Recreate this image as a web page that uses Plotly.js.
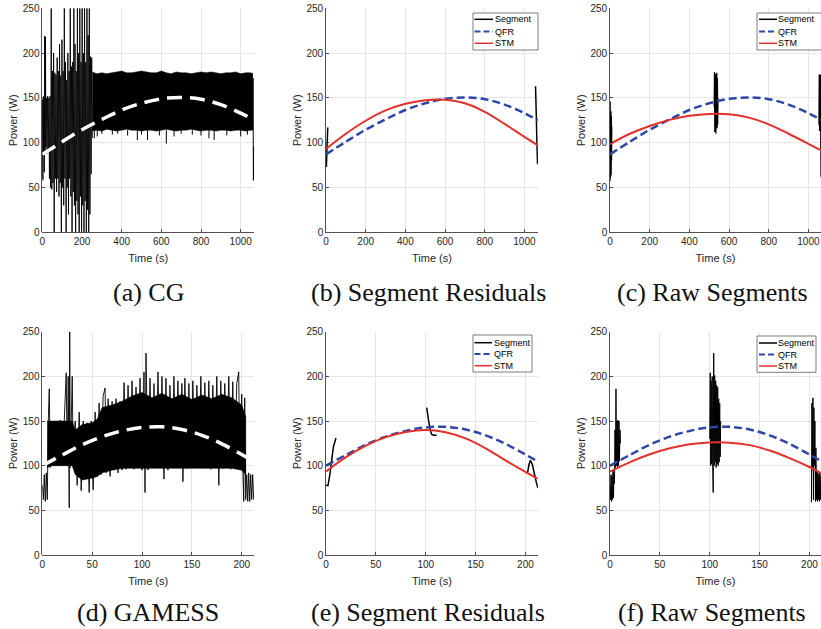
<!DOCTYPE html>
<html>
<head>
<meta charset="utf-8">
<script src="https://cdn.plot.ly/plotly-3.0.1.min.js"></script>
<style>
html,body{margin:0;padding:0;background:#ffffff;}
#chart{width:821px;height:629px;}
</style>
</head>
<body>
<div id="chart"></div>
<script>
// ================= DATA =================
// ---- CG run (top row), time in s, power in W ----
const cgEarlyT = [0,1.5,3,4.5,6,8,10,12,14,16,18,
  21,24,27,30,33,36,39,42,45,48,51,54,57,60,63,66,69,72,75,78,81,84,87,90,93,96,99,102,105,108,
  111,114,117,120,123,126,129,132,135,138,141,144,147,150,153,156,159,162,165,168,171,174,177,180,
  183,186,189,192,195,198,201,204,207,210,213,216,219,222,225,228,231,234,237,240,243,246,249,252];
const cgEarlyV = [60,148,58,150,85,152,67,219,90,218,95,
  150,88,152,92,150,60,152,50,250,48,
  180,55,200,0,178,60,176,45,195,60,
  180,40,210,55,175,0,215,50,180,30,
  250,60,190,0,170,50,200,20,180,60,
  250,40,185,0,190,45,250,30,210,0,
  180,35,250,20,200,0,250,40,190,0,
  250,30,200,0,250,35,190,0,250,25,
  220,0,250,20,196,65,195,105];
const cgBandT  = [252,275,300,325,350,375,400,425,450,475,500,525,550,575,600,625,650,675,700,725,750,775,800,825,850,875,900,925,950,975,1000,1025,1050,1058];
const cgBandHi = [179,177,178,177,178,179,180,178,178,179,180,179,178,178,180,178,177,179,178,178,177,178,179,178,179,178,177,178,178,179,177,178,178,177];
const cgBandLo = [113,114,113,115,114,113,114,115,114,114,113,114,114,113,114,115,114,113,114,114,115,114,113,114,114,113,114,114,113,114,114,113,114,114];
const cgDipBase = 114;
const cgDipT = [262,277,300,353,380,430,479,500,530,590,625,664,700,756,800,840,866,930,1000,1034];
const cgDipV = [105,107,110,109,110,108,103,109,103,108,99,107,110,109,108,105,103,108,107,109];
const cgTailT = [1058,1060,1062,1064,1066,1068];
const cgTailV = [178,114,172,58,95,93];
const cgQfrT = [0,100,200,300,400,500,600,700,800,900,1000,1068];
const cgQfrV = [87,101,114.5,126,136.5,144,149,150.5,148.5,142.5,133,125];
// (b) segment residuals
const cgResSeg1T = [2,5,9];
const cgResSeg1V = [73,95,117];
const cgResSeg2T = [1056,1060,1063,1066,1068];
const cgResSeg2V = [163,130,100,77,76];
const cgStmResT = [0,100,200,300,400,500,600,700,800,900,1000,1068];
const cgStmResV = [93,110,124.5,136,143.5,147.5,148,144,134.5,121,106.5,97];
// (c) raw segments
const cgRawSeg1T = [0,1,2,3,4,5,6,7,8,9];
const cgRawSeg1V = [57,146,60,133,62,135,64,130,80,118];
const cgRawSeg2T = [525,526.5,528,529.5,531,532.5,534,535.5,537,538.5,540,541.5,543,544.5];
const cgRawSeg2V = [140,179,112,176,118,177,110,175,118,178,116,172,120,150];
const cgRawSeg3T = [1053,1054.5,1056,1057.5,1059,1060.5,1062,1063.5,1065,1066.5];
const cgRawSeg3V = [120,176,113,175,114,176,113,62,96,92];
const cgStmRawT = [0,100,200,300,400,500,600,700,800,900,1000,1068];
const cgStmRawV = [98.5,110,118.7,125.5,130,132,131.7,128,120.5,110,98.8,91];

// ---- GAMESS run (bottom row) ----
const gmCoreT  = [5,10,20,30,33,40,50,55,60,70,80,90,100,110,120,130,140,150,160,170,180,190,200,204];
const gmCoreHi = [150,150,150,150,140,146,148,152,165,168,172,178,182,176,181,175,180,174,179,175,180,176,168,155];
const gmCoreLo = [98,100,100,100,90,84,86,88,92,95,97,97,97,97,97,97,97,97,97,97,97,97,95,90];
const gmRawT = [0,1,2,3,4,5,6,7,8,
  10,12,14,16,18,20,22,24,
  25,26,27,27.5,28,
  30,31,33,35,37,39,41,43,45,47,49,51,53,55,57,59,61,63,64,
  66,68,70,72,74,76,78,80,82,84,86,88,90,92,94,96,98,100,102,103,104,
  106,108,110,112,114,116,118,120,122,124,126,128,130,132,134,136,138,140,141,
  143,145,147,149,151,153,155,157,159,161,163,165,167,169,171,173,175,177,179,181,183,185,187,189,191,193,195,197,
  198,200,201,202,203,204,205,206,207,208,209,210,211,212];
const gmRawV = [78,62,90,60,92,62,150,186,98,
  150,100,150,100,151,100,150,204,
  100,200,53,250,98,
  200,100,150,78,160,72,150,88,148,70,150,73,160,88,170,90,178,187,92,
  175,88,172,95,175,92,172,95,193,96,190,110,195,96,188,100,198,95,205,70,226,
  95,198,100,192,98,205,100,200,85,198,95,190,100,200,98,195,100,192,82,
  198,97,192,100,195,98,190,100,200,97,193,100,195,96,190,100,200,78,195,97,192,100,200,96,194,100,192,205,
  96,180,100,60,176,62,90,60,92,60,90,62,90,62];
const gmQfrT = [0,20,40,60,80,100,120,140,160,180,200,212];
const gmQfrV = [100,112,123.5,132.5,139,142.8,143.5,140.5,134,124.5,112.5,105];
// (e) segment residuals
const gmResSeg1T = [0,2,4,5.7,7.4,10];
const gmResSeg1V = [78,77.6,91,106,121,131];
const gmResSeg2T = [101,102.8,104.5,106,108,111];
const gmResSeg2V = [165,151,140,135,134,134];
const gmResSeg3T = [202,203.5,205,207,209,211,212.5];
const gmResSeg3V = [91,101,106,101,91,81,75];
const gmStmResT = [0,20,40,60,80,100,120,140,160,180,200,212];
const gmStmResV = [93.5,109.5,122.5,132,137.8,140,137.5,130.5,119.5,106,93,85.5];
// (f) raw segments
const gmRawSeg1T = [0,0.5,1,1.5,2,2.5,3,3.5,4,4.5,5,5.5,6,6.5,7,7.5,8,8.5,9,9.5,10,10.5];
const gmRawSeg1V = [78,62,90,60,88,62,95,64,92,80,140,98,186,100,150,98,151,100,150,105,140,125];
const gmRawSeg2T = [100,100.5,101,101.5,102,102.5,103,103.5,104,104.5,105,105.5,106,106.5,107,107.5,108,108.5,109,109.5,110,110.5,111];
const gmRawSeg2V = [130,204,100,195,102,200,98,70,226,100,201,104,195,98,190,102,188,100,175,104,170,110,150];
const gmRawSeg3T = [202,202.5,203,203.5,204,204.5,205,205.5,206,206.5,207,207.5,208,208.5,209,209.5,210,210.5,211,211.5];
const gmRawSeg3V = [59,170,95,176,62,165,100,150,60,120,62,95,60,92,62,90,60,92,62,88];
const gmStmRawT = [0,20,40,60,80,100,120,140,160,180,200,212];
const gmStmRawV = [93.3,104,112.8,119.5,124,126,125.8,123,117,108.5,98.5,91.5];

const xTitle = 'Time (s)';
const yTitle = 'Power (W)';
const legendLabels = ['Segment','QFR','STM'];
const captions = ['(a) CG','(b) Segment Residuals','(c) Raw Segments','(d) GAMESS','(e) Segment Residuals','(f) Raw Segments'];

// ================= STYLE / LAYOUT =================
const W = 821, H = 629;
const PX = v => v / W;
const PY = v => 1 - v / H;
const BLUE = '#2E46A6', RED = '#E3302A', INK = '#262626';
const FONT = 'Liberation Sans, Arial, Helvetica, sans-serif';

const axRef = i => (i === 1 ? '' : String(i));
function line(x, y, ax, color, width, extra) {
  return Object.assign({
    type: 'scatter', mode: 'lines', x: x, y: y,
    xaxis: 'x' + axRef(ax), yaxis: 'y' + axRef(ax),
    line: {color: color, width: width, simplify: false},
    hoverinfo: 'skip', showlegend: false
  }, extra || {});
}
function poly(t, hi, lo, ax) {
  const x = t.concat(t.slice().reverse());
  const y = hi.concat(lo.slice().reverse());
  return line(x, y, ax, '#000', 0.5, {fill: 'toself', fillcolor: '#000'});
}
function dips(t, v, base, ax) {
  const x = [], y = [];
  t.forEach((tt, i) => { x.push(tt, tt, null); y.push(base, v[i], null); });
  return line(x, y, ax, '#000', 1, {connectgaps: false});
}
const qfr = (t, v, ax) => line(t, v, ax, BLUE, 2.5, {line: {color: BLUE, width: 2.5, dash: '8px,4px', shape: 'spline', smoothing: 1}});
const stm = (t, v, ax) => line(t, v, ax, RED, 2, {line: {color: RED, width: 2, shape: 'spline', smoothing: 1}});
const qfrWhite = (t, v, ax) => line(t, v, ax, '#fff', 3.5, {line: {color: '#fff', width: 3.5, dash: '15px,8px', shape: 'spline'}});
const seg = (t, v, ax, w) => line(t, v, ax, '#000', w || 1);

const traces = [
  // (a)
  seg(cgEarlyT, cgEarlyV, 1, 0.9),
  poly(cgBandT, cgBandHi, cgBandLo, 1),
  dips(cgDipT, cgDipV, cgDipBase, 1),
  seg(cgTailT, cgTailV, 1, 1),
  qfrWhite(cgQfrT, cgQfrV, 1),
  // (b)
  seg(cgResSeg1T, cgResSeg1V, 2, 1.5),
  seg(cgResSeg2T, cgResSeg2V, 2, 1.5),
  qfr(cgQfrT, cgQfrV, 2),
  stm(cgStmResT, cgStmResV, 2),
  // (c)
  seg(cgRawSeg1T, cgRawSeg1V, 3, 1.2),
  seg(cgRawSeg2T, cgRawSeg2V, 3, 1.2),
  seg(cgRawSeg3T, cgRawSeg3V, 3, 1.2),
  qfr(cgQfrT, cgQfrV, 3),
  stm(cgStmRawT, cgStmRawV, 3),
  // (d)
  poly(gmCoreT, gmCoreHi, gmCoreLo, 4),
  seg(gmRawT, gmRawV, 4, 0.9),
  qfrWhite(gmQfrT, gmQfrV, 4),
  // (e)
  seg(gmResSeg1T, gmResSeg1V, 5, 1.5),
  seg(gmResSeg2T, gmResSeg2V, 5, 1.5),
  seg(gmResSeg3T, gmResSeg3V, 5, 1.5),
  qfr(gmQfrT, gmQfrV, 5),
  stm(gmStmResT, gmStmResV, 5),
  // (f)
  seg(gmRawSeg1T, gmRawSeg1V, 6, 1),
  seg(gmRawSeg2T, gmRawSeg2V, 6, 1),
  seg(gmRawSeg3T, gmRawSeg3V, 6, 1),
  qfr(gmQfrT, gmQfrV, 6),
  stm(gmStmRawT, gmStmRawV, 6)
];

const cols = [[42.3, 254.2], [326, 537.9], [610, 822]];
const rows = [[8.3, 232.3], [331.7, 555]];
const xRanges = [[0,1068],[0,1068],[0,1063.5],[0,212.5],[0,212.5],[0,211.6]];
const xDticks = [200,200,200,50,50,50];

const common = {
  showgrid: true, gridcolor: '#e6e6e6', gridwidth: 1, zeroline: false,
  showline: true, linecolor: INK, linewidth: 0.8,
  ticks: 'inside', ticklen: 3, tickwidth: 0.8, tickcolor: INK,
  tickfont: {family: FONT, size: 10, color: INK},
  automargin: false, fixedrange: true
};

const layout = {
  width: W, height: H,
  margin: {l: 0, r: 0, t: 0, b: 0, pad: 0},
  paper_bgcolor: '#fff', plot_bgcolor: '#fff',
  showlegend: false,
  font: {family: FONT, color: INK},
  annotations: [], shapes: []
};

for (let i = 1; i <= 6; i++) {
  const c = (i - 1) % 3, r = i <= 3 ? 0 : 1;
  const xd = [PX(cols[c][0]), Math.min(1, PX(cols[c][1]))];
  const yd = [PY(rows[r][1]), PY(rows[r][0])];
  layout['xaxis' + axRef(i)] = Object.assign({}, common, {
    domain: xd, range: xRanges[i-1], dtick: xDticks[i-1], tick0: 0,
    anchor: 'y' + axRef(i),
    title: {text: xTitle, font: {family: FONT, size: 11, color: INK}, standoff: 8}
  });
  layout['yaxis' + axRef(i)] = Object.assign({}, common, {
    domain: yd, range: [0, 250], dtick: 50, tick0: 0,
    anchor: 'x' + axRef(i),
    title: {text: yTitle, font: {family: FONT, size: 11, color: INK}, standoff: 2}
  });
}

// captions
const capX = [148, 428, 712, 148, 428, 712];
const capY = [292, 292, 292, 612, 612, 612];
captions.forEach((t, k) => layout.annotations.push({
  text: t, xref: 'paper', yref: 'paper', x: PX(capX[k]), y: PY(capY[k]),
  xanchor: 'center', yanchor: 'middle', showarrow: false,
  font: {family: 'Liberation Serif, Times New Roman, serif', size: 26, color: '#111'}
}));

// legends for (b), (c), (e), (f)
const legends = [
  {box: [473, 538, 13, 50], rows: [19.3, 31.5, 43.3], sx: [474.5, 493], tx: 494},
  {box: [757, 823, 13, 50], rows: [19.3, 31.5, 43.3], sx: [759, 777], tx: 777},
  {box: [473, 532, 335, 372], rows: [342.7, 354, 365.7], sx: [474.5, 492], tx: 492.5},
  {box: [757, 816, 336, 372.3], rows: [343, 354.5, 366], sx: [759, 777], tx: 777}
];
const sampleStyle = [
  {color: '#000', width: 1.5},
  {color: BLUE, width: 2, dash: '6px,3px'},
  {color: RED, width: 1.5}
];
legends.forEach(L => {
  layout.shapes.push({type: 'rect', xref: 'paper', yref: 'paper',
    x0: PX(L.box[0]), x1: PX(L.box[1]), y0: PY(L.box[3]), y1: PY(L.box[2]),
    line: {color: INK, width: 0.6}, fillcolor: '#fff', layer: 'above'});
  L.rows.forEach((ry, k) => {
    layout.shapes.push({type: 'line', xref: 'paper', yref: 'paper',
      x0: PX(L.sx[0]), x1: PX(L.sx[1]), y0: PY(ry), y1: PY(ry),
      line: sampleStyle[k], layer: 'above'});
    layout.annotations.push({text: legendLabels[k], xref: 'paper', yref: 'paper',
      x: PX(L.tx), y: PY(ry), xanchor: 'left', yanchor: 'middle', showarrow: false,
      borderpad: 0, font: {family: FONT, size: 9, color: '#000'}});
  });
});

Plotly.newPlot('chart', traces, layout, {staticPlot: true, displayModeBar: false});
</script>
</body>
</html>
